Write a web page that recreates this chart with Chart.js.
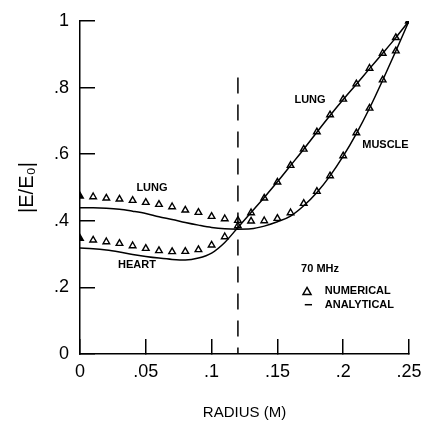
<!DOCTYPE html>
<html>
<head>
<meta charset="utf-8">
<script src="https://cdn.jsdelivr.net/npm/chart.js@4.4.0/dist/chart.umd.min.js"></script>
<style>
  html, body { margin: 0; padding: 0; background: #fff; }
  #wrap { width: 423px; height: 423px; }
</style>
</head>
<body>
<div id="wrap"><canvas id="field"></canvas></div>
<script>
// radius (m) of the sample points
const radius = [0, .01, .02, .03, .04, .05, .06, .07, .08, .09, .10, .11, .12,
                .13, .14, .15, .16, .17, .18, .19, .20, .21, .22, .23, .24, .25];

// heart core, lung shell
const numHeartLung = [0.347, 0.342, 0.337, 0.332, 0.325, 0.317, 0.310, 0.307, 0.308, 0.313, 0.327, 0.352, 0.385,
                      0.424, 0.468, 0.516, 0.566, 0.615, 0.667, 0.718, 0.765, 0.811, 0.858, 0.903, 0.950, 1.0];
const anaHeartLung = [0.318, 0.316, 0.312, 0.306, 0.299, 0.293, 0.288, 0.284, 0.282, 0.288, 0.303, 0.335, 0.380,
                      0.425, 0.470, 0.517, 0.566, 0.615, 0.666, 0.716, 0.764, 0.810, 0.857, 0.903, 0.950, 1.0];

// lung core, muscle shell
const numLungMuscle = [0.474, 0.472, 0.468, 0.465, 0.461, 0.455, 0.449, 0.442, 0.432, 0.425, 0.413, 0.406, 0.401,
                       0.399, 0.400, 0.407, 0.424, 0.452, 0.488, 0.535, 0.595, 0.664, 0.738, 0.823, 0.910, 1.0];
const anaLungMuscle = [0.439, 0.439, 0.438, 0.435, 0.429, 0.422, 0.412, 0.404, 0.395, 0.387, 0.380, 0.376, 0.375,
                       0.376, 0.384, 0.397, 0.414, 0.445, 0.485, 0.535, 0.594, 0.662, 0.738, 0.822, 0.910, 1.0];

const xTicks = [0, .05, .1, .15, .2, .25];
const yTicks = [0, .2, .4, .6, .8, 1];

// boundary between core and shell
const boundaryR = 0.12;
const boundaryTop = 0.83;

// text placed in data coordinates
const labels = [
  {text: 'LUNG',   x: 0.0547, y: 0.500},
  {text: 'HEART',  x: 0.0433, y: 0.267},
  {text: 'LUNG',   x: 0.1748, y: 0.763},
  {text: 'MUSCLE', x: 0.2321, y: 0.628}
];

const FONT = "'Liberation Sans', Arial, sans-serif";

const pts = arr => arr.map((v, i) => ({x: radius[i], y: v}));
const fmt = v => {
  const s = String(+(+v).toFixed(2));
  return s.replace(/^0\./, '.');
};
const endFill = ctx => (ctx.dataIndex === 0 || ctx.dataIndex === radius.length - 1) ? '#000' : 'rgba(0,0,0,0)';

const lineStyle = {
  borderColor: '#000', borderWidth: 1.5, pointRadius: 0,
  cubicInterpolationMode: 'monotone', fill: false
};
const markStyle = {
  showLine: false, pointStyle: 'triangle', pointRadius: 3.8,
  pointBorderColor: '#000', pointBorderWidth: 1.4,
  pointBackgroundColor: endFill, borderColor: '#000'
};

const textPlugin = {
  id: 'textPlugin',
  afterDatasetsDraw(chart) {
    const {ctx, scales: {x, y}} = chart;
    ctx.save();
    ctx.fillStyle = '#000';
    ctx.textBaseline = 'middle';
    ctx.textAlign = 'center';
    ctx.font = 'bold 11px ' + FONT;
    labels.forEach(l => ctx.fillText(l.text, x.getPixelForValue(l.x), y.getPixelForValue(l.y)));

    // key
    ctx.textAlign = 'left';
    ctx.fillText('70 MHz', x.getPixelForValue(0.168), y.getPixelForValue(0.255));
    ctx.fillText('NUMERICAL', x.getPixelForValue(0.186), y.getPixelForValue(0.190));
    ctx.fillText('ANALYTICAL', x.getPixelForValue(0.186), y.getPixelForValue(0.146));

    const tx = x.getPixelForValue(0.1725), ty = y.getPixelForValue(0.188);
    ctx.lineWidth = 1.5;
    ctx.strokeStyle = '#000';
    ctx.beginPath();
    ctx.moveTo(tx, ty - 4);
    ctx.lineTo(tx + 4, ty + 3);
    ctx.lineTo(tx - 4, ty + 3);
    ctx.closePath();
    ctx.stroke();

    ctx.beginPath();
    ctx.moveTo(x.getPixelForValue(0.1708), y.getPixelForValue(0.148));
    ctx.lineTo(x.getPixelForValue(0.1763), y.getPixelForValue(0.148));
    ctx.stroke();
    ctx.restore();
  }
};

new Chart(document.getElementById('field'), {
  type: 'line',
  data: {
    datasets: [
      Object.assign({label: 'heart-lung analytical', data: pts(anaHeartLung)}, lineStyle),
      Object.assign({label: 'lung-muscle analytical', data: pts(anaLungMuscle)}, lineStyle),
      Object.assign({label: 'heart-lung numerical', data: pts(numHeartLung)}, markStyle),
      Object.assign({label: 'lung-muscle numerical', data: pts(numLungMuscle)}, markStyle),
      {
        label: 'boundary',
        data: [{x: boundaryR, y: boundaryTop}, {x: boundaryR, y: 0}],
        borderColor: '#000', borderWidth: 1.5, borderDash: [16, 11], pointRadius: 0
      }
    ]
  },
  options: {
    responsive: true,
    maintainAspectRatio: false,
    animation: false,
    layout: { padding: {top: 21, right: 14, bottom: 0, left: 0} },
    plugins: {
      legend: { display: false },
      tooltip: { enabled: false }
    },
    scales: {
      x: {
        type: 'linear',
        min: 0, max: 0.25,
        afterBuildTicks: s => { s.ticks = xTicks.map(v => ({value: v})); },
        afterFit: s => { s.height = 69; s.paddingLeft = 0; s.paddingRight = 0; },
        border: { display: true, color: '#000', width: 1.5 },
        grid: { drawOnChartArea: false, drawTicks: true, tickLength: -15, color: '#000', lineWidth: 1.5 },
        ticks: {
          padding: 22, maxRotation: 0, autoSkip: false, color: '#000',
          font: { family: FONT, size: 18 },
          callback: v => fmt(v)
        },
        title: {
          display: true, text: 'RADIUS (M)', color: '#000',
          font: { family: FONT, size: 15 },
          padding: {top: 0, bottom: 1}
        }
      },
      y: {
        type: 'linear',
        min: 0, max: 1,
        afterBuildTicks: s => { s.ticks = yTicks.map(v => ({value: v})); },
        afterFit: s => { s.width = 80; s.paddingTop = 0; s.paddingBottom = 0; },
        border: { display: true, color: '#000', width: 1.5 },
        grid: { drawOnChartArea: false, drawTicks: true, tickLength: -15, color: '#000', lineWidth: 1.5 },
        ticks: {
          padding: 26, color: '#000',
          font: { family: FONT, size: 18 },
          callback: v => fmt(v)
        },
        title: {
          display: true, text: '|E/E\u2080|', color: '#000',
          font: { family: FONT, size: 20 },
          padding: {top: 15, bottom: 0}
        }
      }
    }
  },
  plugins: [textPlugin]
});
</script>
</body>
</html>
